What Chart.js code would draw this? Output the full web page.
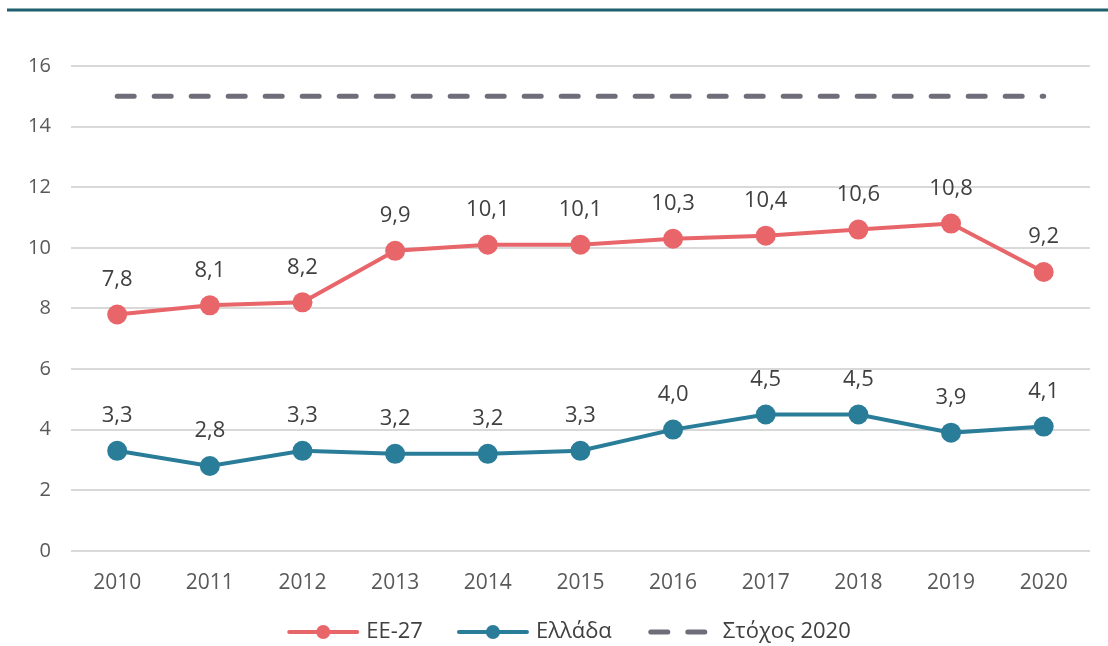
<!DOCTYPE html>
<html>
<head>
<meta charset="utf-8">
<script src="https://cdn.jsdelivr.net/npm/chart.js@4.4.1/dist/chart.umd.min.js"></script>
<style>
  body { margin: 0; background: #fff; }
  #wrap { width: 1108px; height: 646px; position: relative; }
</style>
</head>
<body>
<div id="wrap"><canvas id="chart" width="1108" height="646"></canvas></div>
<script>
// Δεδομένα
const years = ['2010', '2011', '2012', '2013', '2014', '2015', '2016', '2017', '2018', '2019', '2020'];
const ee27 = [7.8, 8.1, 8.2, 9.9, 10.1, 10.1, 10.3, 10.4, 10.6, 10.8, 9.2];
const ellada = [3.3, 2.8, 3.3, 3.2, 3.2, 3.3, 4.0, 4.5, 4.5, 3.9, 4.1];
const stoxos = [15, 15, 15, 15, 15, 15, 15, 15, 15, 15, 15];
const yTicks = [0, 2, 4, 6, 8, 10, 12, 14, 16];

const RED = '#e8666a';
const BLUE = '#2a7d98';
const GREY = '#6e6d79';
const FONT = 'Open Sans';

// ετικέτες τιμών πάνω από τα σημεία
const valueLabels = {
    id: 'valueLabels',
    afterDatasetsDraw(chart) {
        const ctx = chart.ctx;
        ctx.save();
        ctx.font = '22px "' + FONT + '"';
        ctx.fillStyle = '#404040';
        ctx.textAlign = 'center';
        ctx.textBaseline = 'middle';
        [0, 1].forEach(i => {
            const meta = chart.getDatasetMeta(i);
            const data = chart.data.datasets[i].data;
            meta.data.forEach((pt, j) => {
                ctx.fillText(data[j].toFixed(1).replace('.', ','), pt.x, pt.y - 35);
            });
        });
        ctx.restore();
    }
};

// γραμμή στην κορυφή
const topRule = {
    id: 'topRule',
    beforeDraw(chart) {
        const ctx = chart.ctx;
        ctx.save();
        ctx.strokeStyle = '#1f5f6f';
        ctx.lineWidth = 3;
        ctx.beginPath();
        ctx.moveTo(7, 10);
        ctx.lineTo(chart.width, 10);
        ctx.stroke();
        ctx.restore();
    }
};

// υπόμνημα στο κάτω μέρος
const bottomLegend = {
    id: 'bottomLegend',
    afterDraw(chart) {
        const ctx = chart.ctx;
        const y = 632;
        const iconW = 72, gapIcon = 7, gapItem = 34;
        ctx.save();
        ctx.font = '22px "' + FONT + '"';
        ctx.textBaseline = 'middle';
        const items = chart.data.datasets.map(ds => ({ ds, w: ctx.measureText(ds.label).width }));
        const total = items.reduce((a, it) => a + iconW + gapIcon + it.w, 0) + gapItem * (items.length - 1);
        let x = 570 - total / 2;
        items.forEach(it => {
            const ds = it.ds;
            ctx.strokeStyle = ds.borderColor;
            ctx.lineCap = 'round';
            if (ds.borderDash) {
                ctx.lineWidth = 5;
                ctx.beginPath();
                ctx.moveTo(x + 5, y); ctx.lineTo(x + 22, y);
                ctx.moveTo(x + 42, y); ctx.lineTo(x + 59, y);
                ctx.stroke();
            } else {
                ctx.lineWidth = 4;
                ctx.beginPath(); ctx.moveTo(x + 2, y); ctx.lineTo(x + iconW - 2, y); ctx.stroke();
                ctx.fillStyle = ds.borderColor;
                ctx.beginPath(); ctx.arc(x + iconW / 2, y, 7, 0, Math.PI * 2); ctx.fill();
            }
            ctx.fillStyle = '#404040';
            const tx = x + (ds.borderDash ? 77 : iconW + gapIcon);
            ctx.fillText(ds.label, tx, y);
            x = tx + it.w + gapItem;
        });
        ctx.restore();
    }
};

new Chart(document.getElementById('chart'), {
    type: 'line',
    data: {
        labels: years,
        datasets: [
            {
                label: 'EE-27',
                data: ee27,
                borderColor: RED,
                backgroundColor: RED,
                borderWidth: 4,
                pointRadius: 10,
                pointHoverRadius: 10,
                pointBorderWidth: 0,
                tension: 0
            },
            {
                label: 'Ελλάδα',
                data: ellada,
                borderColor: BLUE,
                backgroundColor: BLUE,
                borderWidth: 4,
                pointRadius: 10,
                pointHoverRadius: 10,
                pointBorderWidth: 0,
                tension: 0
            },
            {
                label: 'Στόχος 2020',
                data: stoxos,
                borderColor: GREY,
                borderWidth: 5,
                borderDash: [17, 20],
                borderCapStyle: 'round',
                pointRadius: 0,
                tension: 0
            }
        ]
    },
    options: {
        responsive: false,
        animation: false,
        layout: { padding: { top: 66, right: 18, left: 8, bottom: 38 } },
        plugins: {
            tooltip: { enabled: false },
            legend: { display: false }
        },
        scales: {
            x: {
                offset: true,
                grid: { display: false },
                border: { display: false },
                ticks: { color: '#595959', font: { family: FONT, size: 21 }, padding: 12 }
            },
            y: {
                min: 0,
                max: 16,
                afterBuildTicks(axis) { axis.ticks = yTicks.map(v => ({ value: v })); },
                grid: { color: '#d9d9d9', lineWidth: 2, drawTicks: false },
                border: { display: false },
                ticks: { color: '#595959', font: { family: FONT, size: 20 }, padding: 20 }
            }
        }
    },
    plugins: [valueLabels, topRule, bottomLegend]
});
</script>
</body>
</html>
